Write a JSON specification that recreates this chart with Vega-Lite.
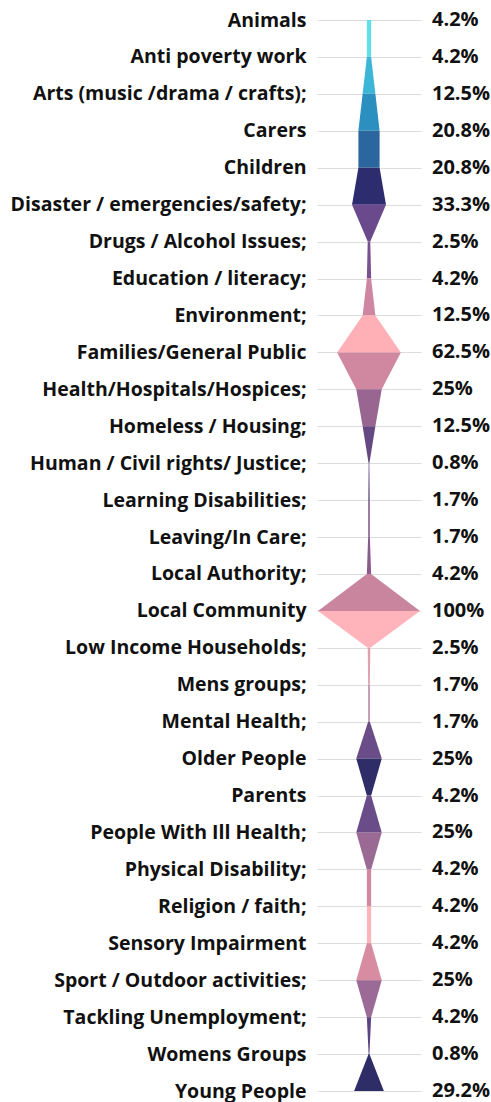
{
  "$schema": "https://vega.github.io/schema/vega-lite/v6.json",
  "autosize": {"type": "none"},
  "padding": {"left": 317, "top": 0, "right": 70, "bottom": 0},
  "width": 104,
  "height": 1102,
  "background": "white",
  "config": {
    "view": {"stroke": null},
    "axis": {"domain": false, "ticks": false, "labelFont": "Open Sans", "labelFontWeight": "bold", "labelFontSize": 19.5, "labelColor": "#111111", "gridColor": "#dcdcdc", "gridWidth": 1, "labelPadding": 11, "labelLimit": 0}
  },
  "datasets": {
    "cats": [
      {"cat": "Animals", "v": 4.2, "label": "4.2%"},
      {"cat": "Anti poverty work", "v": 4.2, "label": "4.2%"},
      {"cat": "Arts (music /drama / crafts);", "v": 12.5, "label": "12.5%"},
      {"cat": "Carers", "v": 20.8, "label": "20.8%"},
      {"cat": "Children", "v": 20.8, "label": "20.8%"},
      {"cat": "Disaster / emergencies/safety;", "v": 33.3, "label": "33.3%"},
      {"cat": "Drugs / Alcohol Issues;", "v": 2.5, "label": "2.5%"},
      {"cat": "Education / literacy;", "v": 4.2, "label": "4.2%"},
      {"cat": "Environment;", "v": 12.5, "label": "12.5%"},
      {"cat": "Families/General Public", "v": 62.5, "label": "62.5%"},
      {"cat": "Health/Hospitals/Hospices;", "v": 25, "label": "25%"},
      {"cat": "Homeless / Housing;", "v": 12.5, "label": "12.5%"},
      {"cat": "Human / Civil rights/ Justice;", "v": 0.8, "label": "0.8%"},
      {"cat": "Learning Disabilities;", "v": 1.7, "label": "1.7%"},
      {"cat": "Leaving/In Care;", "v": 1.7, "label": "1.7%"},
      {"cat": "Local Authority;", "v": 4.2, "label": "4.2%"},
      {"cat": "Local Community", "v": 100, "label": "100%"},
      {"cat": "Low Income Households;", "v": 2.5, "label": "2.5%"},
      {"cat": "Mens groups;", "v": 1.7, "label": "1.7%"},
      {"cat": "Mental Health;", "v": 1.7, "label": "1.7%"},
      {"cat": "Older People", "v": 25, "label": "25%"},
      {"cat": "Parents", "v": 4.2, "label": "4.2%"},
      {"cat": "People With Ill Health;", "v": 25, "label": "25%"},
      {"cat": "Physical Disability;", "v": 4.2, "label": "4.2%"},
      {"cat": "Religion / faith;", "v": 4.2, "label": "4.2%"},
      {"cat": "Sensory Impairment", "v": 4.2, "label": "4.2%"},
      {"cat": "Sport / Outdoor activities;", "v": 25, "label": "25%"},
      {"cat": "Tackling Unemployment;", "v": 4.2, "label": "4.2%"},
      {"cat": "Womens Groups", "v": 0.8, "label": "0.8%"},
      {"cat": "Young People", "v": 29.2, "label": "29.2%"}
    ],
    "segs": [
      {"seg": 1, "cat": "Animals", "v": 4.2}, {"seg": 1, "cat": "Anti poverty work", "v": 4.2},
      {"seg": 2, "cat": "Anti poverty work", "v": 4.2}, {"seg": 2, "cat": "Arts (music /drama / crafts);", "v": 12.5},
      {"seg": 3, "cat": "Arts (music /drama / crafts);", "v": 12.5}, {"seg": 3, "cat": "Carers", "v": 20.8},
      {"seg": 4, "cat": "Carers", "v": 20.8}, {"seg": 4, "cat": "Children", "v": 20.8},
      {"seg": 5, "cat": "Children", "v": 20.8}, {"seg": 5, "cat": "Disaster / emergencies/safety;", "v": 33.3},
      {"seg": 6, "cat": "Disaster / emergencies/safety;", "v": 33.3}, {"seg": 6, "cat": "Drugs / Alcohol Issues;", "v": 2.5},
      {"seg": 7, "cat": "Drugs / Alcohol Issues;", "v": 2.5}, {"seg": 7, "cat": "Education / literacy;", "v": 4.2},
      {"seg": 8, "cat": "Education / literacy;", "v": 4.2}, {"seg": 8, "cat": "Environment;", "v": 12.5},
      {"seg": 9, "cat": "Environment;", "v": 12.5}, {"seg": 9, "cat": "Families/General Public", "v": 62.5},
      {"seg": 10, "cat": "Families/General Public", "v": 62.5}, {"seg": 10, "cat": "Health/Hospitals/Hospices;", "v": 25},
      {"seg": 11, "cat": "Health/Hospitals/Hospices;", "v": 25}, {"seg": 11, "cat": "Homeless / Housing;", "v": 12.5},
      {"seg": 12, "cat": "Homeless / Housing;", "v": 12.5}, {"seg": 12, "cat": "Human / Civil rights/ Justice;", "v": 0.8},
      {"seg": 13, "cat": "Human / Civil rights/ Justice;", "v": 0.8}, {"seg": 13, "cat": "Learning Disabilities;", "v": 1.7},
      {"seg": 14, "cat": "Learning Disabilities;", "v": 1.7}, {"seg": 14, "cat": "Leaving/In Care;", "v": 1.7},
      {"seg": 15, "cat": "Leaving/In Care;", "v": 1.7}, {"seg": 15, "cat": "Local Authority;", "v": 4.2},
      {"seg": 16, "cat": "Local Authority;", "v": 4.2}, {"seg": 16, "cat": "Local Community", "v": 100},
      {"seg": 17, "cat": "Local Community", "v": 100}, {"seg": 17, "cat": "Low Income Households;", "v": 2.5},
      {"seg": 18, "cat": "Low Income Households;", "v": 2.5}, {"seg": 18, "cat": "Mens groups;", "v": 1.7},
      {"seg": 19, "cat": "Mens groups;", "v": 1.7}, {"seg": 19, "cat": "Mental Health;", "v": 1.7},
      {"seg": 20, "cat": "Mental Health;", "v": 1.7}, {"seg": 20, "cat": "Older People", "v": 25},
      {"seg": 21, "cat": "Older People", "v": 25}, {"seg": 21, "cat": "Parents", "v": 4.2},
      {"seg": 22, "cat": "Parents", "v": 4.2}, {"seg": 22, "cat": "People With Ill Health;", "v": 25},
      {"seg": 23, "cat": "People With Ill Health;", "v": 25}, {"seg": 23, "cat": "Physical Disability;", "v": 4.2},
      {"seg": 24, "cat": "Physical Disability;", "v": 4.2}, {"seg": 24, "cat": "Religion / faith;", "v": 4.2},
      {"seg": 25, "cat": "Religion / faith;", "v": 4.2}, {"seg": 25, "cat": "Sensory Impairment", "v": 4.2},
      {"seg": 26, "cat": "Sensory Impairment", "v": 4.2}, {"seg": 26, "cat": "Sport / Outdoor activities;", "v": 25},
      {"seg": 27, "cat": "Sport / Outdoor activities;", "v": 25}, {"seg": 27, "cat": "Tackling Unemployment;", "v": 4.2},
      {"seg": 28, "cat": "Tackling Unemployment;", "v": 4.2}, {"seg": 28, "cat": "Womens Groups", "v": 0.8},
      {"seg": 29, "cat": "Womens Groups", "v": 0.8}, {"seg": 29, "cat": "Young People", "v": 29.2}
    ]
  },
  "resolve": {"scale": {"x": "independent"}},
  "layer": [
    {
      "data": {"name": "cats"},
      "mark": {"type": "text", "align": "left", "baseline": "middle", "dx": 11, "font": "Open Sans", "fontWeight": "bold", "fontSize": 20, "color": "#111111"},
      "encoding": {
        "y": {"field": "cat", "type": "ordinal", "sort": null, "scale": {"type": "point", "range": [20, 1091], "padding": 0}, "axis": {"title": null, "grid": true}},
        "x": {"datum": 102, "type": "quantitative", "scale": {"domain": [-102, 102]}, "axis": null},
        "text": {"field": "label"}
      }
    },
    {
      "data": {"name": "segs"},
      "mark": {"type": "area", "orient": "horizontal", "interpolate": "linear"},
      "encoding": {
        "y": {"field": "cat", "type": "ordinal", "sort": null},
        "x": {"field": "v", "type": "quantitative", "stack": null, "scale": {"domain": [-102, 102]}, "axis": null},
        "x2": {"datum": 0},
        "color": {"field": "seg", "type": "nominal", "legend": null, "scale": {"domain": [1,2,3,4,5,6,7,8,9,10,11,12,13,14,15,16,17,18,19,20,21,22,23,24,25,26,27,28,29], "range": ["#5fe0e8","#3db5d6","#2b8fc0","#2b669f","#2d2c6e","#6a4a8c","#7a5090","#cf86a0","#ffb0b6","#cf88a0","#986690","#654882","#7b6a9a","#8a6a9a","#8a5a8e","#c9849e","#ffb3ba","#e0a0b0","#c090b0","#6a4c88","#2e2d68","#6a4c88","#9a6a95","#d0879f","#ffb3ba","#d88ca2","#9c6a96","#5a4283","#2e2d68"]}}
      }
    },
    {
      "data": {"name": "segs"},
      "mark": {"type": "area", "orient": "horizontal", "interpolate": "linear"},
      "encoding": {
        "y": {"field": "cat", "type": "ordinal", "sort": null},
        "x": {"field": "v", "type": "quantitative", "stack": null, "scale": {"domain": [-102, 102], "reverse": true}, "axis": null},
        "x2": {"datum": 0},
        "color": {"field": "seg", "type": "nominal", "legend": null}
      }
    }
  ]
}
